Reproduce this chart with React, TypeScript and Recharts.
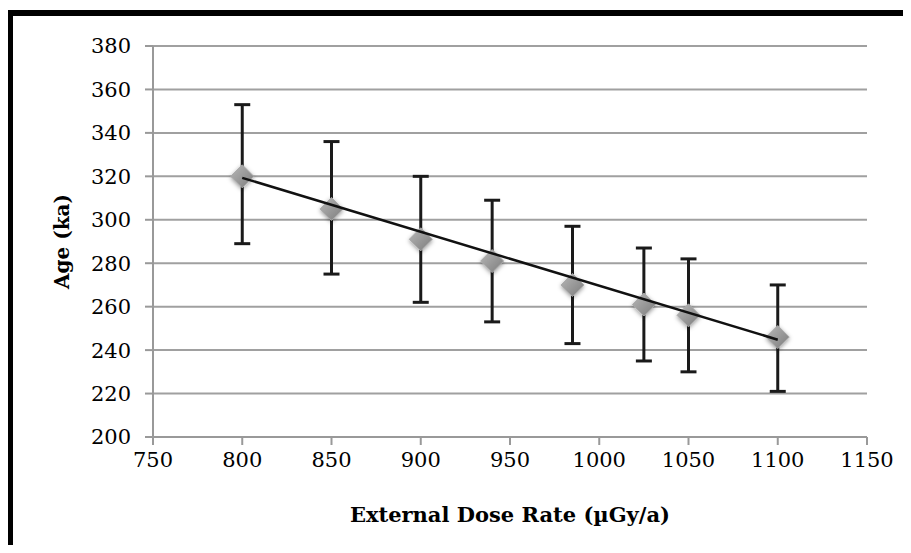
import React from "react";
import {
  ScatterChart,
  Scatter,
  XAxis,
  YAxis,
  CartesianGrid,
  ErrorBar,
  Label,
} from "recharts";

// dose rate (µGy/a) vs age (ka)
const doseRates = [800, 850, 900, 940, 985, 1025, 1050, 1100];
const ages = [320, 305, 291, 281, 270, 261, 256, 246];
const ageUpper = [353, 336, 320, 309, 297, 287, 282, 270];
const ageLower = [289, 275, 262, 253, 243, 235, 230, 221];

// linear fit drawn across the data range
const trendX = [800, 1100];
const trendY = [319.3, 244.8];

const xTicks = [750, 800, 850, 900, 950, 1000, 1050, 1100, 1150];
const yTicks = [200, 220, 240, 260, 280, 300, 320, 340, 360, 380];

const points = doseRates.map((x, i) => ({
  x,
  y: ages[i],
  err: [ages[i] - ageLower[i], ageUpper[i] - ages[i]],
}));
const trend = trendX.map((x, i) => ({ x, y: trendY[i] }));

const FONT = "'DejaVu Serif', serif";

const Diamond = (props: any) => {
  const { cx, cy } = props;
  if (cx == null || cy == null) return null;
  const r = 11.5;
  return (
    <polygon
      points={`${cx},${cy - r} ${cx + r},${cy} ${cx},${cy + r} ${cx - r},${cy}`}
      fill="url(#diamondFill)"
      stroke="#a8a8a8"
      strokeWidth={1}
      filter="url(#softShadow)"
    />
  );
};

export default function App() {
  return (
    <div
      style={{
        position: "relative",
        width: 911,
        height: 553,
        margin: -8,
        overflow: "hidden",
        background: "#fff",
      }}
    >
      {/* thick frame, cut off at right and bottom like the scan */}
      <div
        style={{
          position: "absolute",
          left: 7,
          top: 10,
          width: 940,
          height: 600,
          border: "6px solid #000",
          boxSizing: "border-box",
        }}
      />
      <div style={{ position: "absolute", left: 0, top: 0 }}>
        <ScatterChart
          width={911}
          height={553}
          margin={{ top: 46, right: 44, left: 0, bottom: 0 }}
        >
          <defs>
            <linearGradient id="diamondFill" x1="0" y1="0" x2="1" y2="1">
              <stop offset="0%" stopColor="#b8b8b8" />
              <stop offset="100%" stopColor="#7c7c7c" />
            </linearGradient>
            <filter id="softShadow" x="-50%" y="-50%" width="200%" height="200%">
              <feDropShadow dx="0" dy="1.5" stdDeviation="2" floodColor="#000" floodOpacity="0.4" />
            </filter>
          </defs>
          <CartesianGrid vertical={false} stroke="#a0a0a0" strokeWidth={2} />
          <XAxis
            type="number"
            dataKey="x"
            domain={[750, 1150]}
            ticks={xTicks}
            height={116}
            stroke="#999"
            strokeWidth={2}
            tickSize={8}
            tickMargin={7}
            tick={{ fill: "#000", fontSize: 21, fontFamily: FONT }}
          >
            <Label
              value="External Dose Rate (µGy/a)"
              position="insideTop"
              offset={70}
              style={{ fill: "#000", fontSize: 21, fontWeight: "bold", fontFamily: FONT }}
            />
          </XAxis>
          <YAxis
            type="number"
            dataKey="y"
            domain={[200, 380]}
            ticks={yTicks}
            width={153}
            stroke="#999"
            strokeWidth={2}
            tickSize={8}
            tickMargin={14}
            tick={{ fill: "#000", fontSize: 21, fontFamily: FONT }}
          >
            <Label
              value="Age (ka)"
              angle={-90}
              position="insideLeft"
              offset={62}
              style={{
                fill: "#000",
                fontSize: 20,
                fontWeight: "bold",
                fontFamily: FONT,
                textAnchor: "middle",
              }}
            />
          </YAxis>
          <Scatter data={points} shape={Diamond} isAnimationActive={false}>
            <ErrorBar
              dataKey="err"
              direction="y"
              width={8}
              stroke="#1a1a1a"
              strokeWidth={3}
              isAnimationActive={false}
            />
          </Scatter>
          <Scatter
            data={trend}
            line={{ stroke: "#111", strokeWidth: 2.5 }}
            shape={() => null}
            isAnimationActive={false}
          />
        </ScatterChart>
      </div>
    </div>
  );
}
